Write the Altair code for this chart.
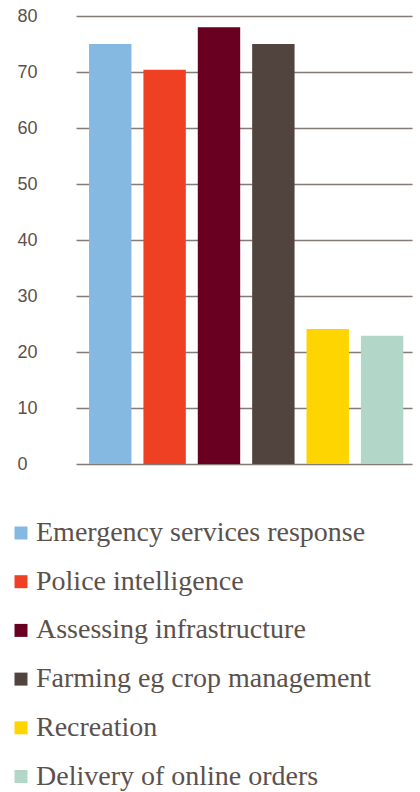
import altair as alt
import pandas as pd

categories = [
    "Emergency services response",
    "Police intelligence",
    "Assessing infrastructure",
    "Farming eg crop management",
    "Recreation",
    "Delivery of online orders",
]
values = [75, 70.4, 78, 75, 24.1, 22.9]
colors = ["#85b9e2", "#f04023", "#6a0021", "#51443f", "#ffd500", "#b2d6c7"]
y_ticks = [0, 10, 20, 30, 40, 50, 60, 70, 80]

df = pd.DataFrame({"category": categories, "value": values})

text_color = "#5b514c"

chart = (
    alt.Chart(df)
    .mark_bar()
    .encode(
        x=alt.X(
            "category:N",
            sort=categories,
            axis=None,
            scale=alt.Scale(paddingInner=0.22, paddingOuter=0.2, align=0.6),
        ),
        y=alt.Y(
            "value:Q",
            scale=alt.Scale(domain=[0, 80], nice=False),
            axis=alt.Axis(
                values=y_ticks,
                title=None,
                domain=False,
                ticks=False,
                tickSize=0,
                labelAlign="left",
                labelPadding=59,
                labelFont="Liberation Sans",
                labelFontSize=18,
                labelColor=text_color,
                grid=True,
                gridColor="#857a75",
                gridWidth=1.5,
            ),
        ),
        color=alt.Color(
            "category:N",
            sort=categories,
            scale=alt.Scale(domain=categories, range=colors),
            legend=alt.Legend(
                title=None,
                orient="none",
                legendX=-69,
                legendY=503,
                direction="vertical",
                symbolType="square",
                symbolSize=169,
                symbolStrokeWidth=0,
                symbolOpacity=1,
                labelFont="Liberation Serif",
                labelFontSize=28,
                labelColor=text_color,
                labelOffset=1,
                labelLimit=420,
                rowPadding=20.7,
            ),
        ),
    )
    .properties(
        width=336,
        height=448,
        background="white",
        padding={"left": 76, "top": 16, "right": 8, "bottom": 328},
        autosize=alt.AutoSizeParams(type="none"),
    )
    .configure_view(strokeWidth=0, stroke=None)
)

chart.save("out.html", embed_options={"renderer": "svg", "actions": False})
